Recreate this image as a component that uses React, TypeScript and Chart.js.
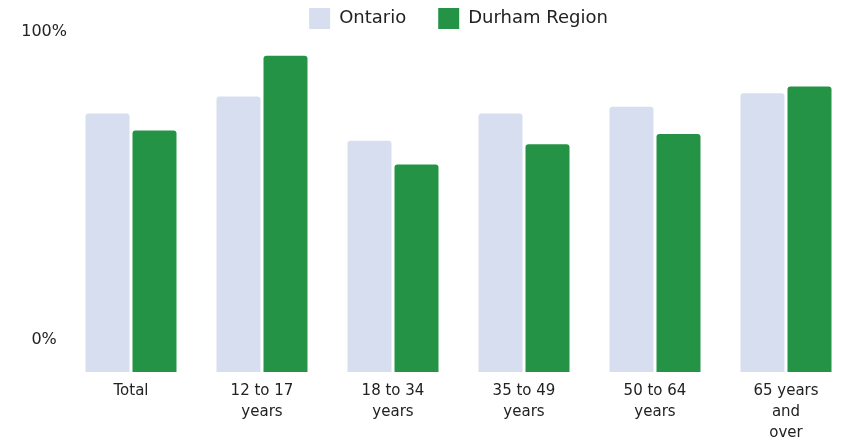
import React, { useEffect, useRef } from "react";
import { Chart, registerables } from "chart.js";

Chart.register(...registerables);

const categories: (string | string[])[] = [
  "Total",
  ["12 to 17", "years"],
  ["18 to 34", "years"],
  ["35 to 49", "years"],
  ["50 to 64", "years"],
  ["65 years", "and", "over"],
];
const ontario = [76, 81, 68, 76, 78, 82];
const durham = [71, 93, 61, 67, 70, 84];
const yTickValues = [0, 100];

const FONT = "DejaVu Sans";
const TEXT = "#222222";

export default function App() {
  const ref = useRef<HTMLCanvasElement | null>(null);
  useEffect(() => {
    if (!ref.current) return;
    const chart = new Chart(ref.current, {
      type: "bar",
      data: {
        labels: categories,
        datasets: [
          {
            label: "Ontario",
            data: ontario,
            backgroundColor: "#d7deef",
            borderRadius: 3,
            borderSkipped: "start",
            clip: false as any,
            categoryPercentage: 0.7176,
            barPercentage: 0.936,
          },
          {
            label: "Durham Region",
            data: durham,
            backgroundColor: "#249346",
            borderRadius: 3,
            borderSkipped: "start",
            clip: false as any,
            categoryPercentage: 0.7176,
            barPercentage: 0.936,
          },
        ],
      },
      options: {
        animation: false,
        responsive: true,
        maintainAspectRatio: false,
        layout: { padding: { left: 0, right: 58, top: -24, bottom: 0 } },
        plugins: {
          tooltip: { enabled: false },
          legend: {
            position: "top",
            fullSize: false,
            maxHeight: 56,
            labels: {
              boxWidth: 21,
              boxHeight: 21,
              padding: 32,
              color: TEXT,
              font: { family: FONT, size: 18 },
            },
          },
        },
        scales: {
          x: {
            offset: false,
            grid: { display: false, drawTicks: false },
            border: { display: false },
            afterFit: (s: any) => {
              s.height = 66;
            },
            ticks: {
              color: TEXT,
              font: { family: FONT, size: 15, lineHeight: 1.38 },
              padding: 9,
              maxRotation: 0,
              autoSkip: false,
            },
          },
          y: {
            display: false,
            min: 0,
            max: 100,
          },
          yl: {
            type: "linear",
            position: "left",
            min: -10.39,
            max: 100,
            grid: { display: false, drawTicks: false },
            border: { display: false },
            afterBuildTicks: (s: any) => {
              s.ticks = yTickValues.map((v) => ({ value: v }));
            },
            afterFit: (s: any) => {
              s.width = 131;
              s.paddingTop = 0;
              s.paddingBottom = 0;
            },
            ticks: {
              color: TEXT,
              crossAlign: "center",
              padding: 64,
              font: { family: FONT, size: 16 },
              callback: (v: any) => v + "%",
            },
          },
        },
      },
    });
    return () => chart.destroy();
  }, []);
  return (
    <div style={{ position: "absolute", left: 0, top: 0, width: 844, height: 438 }}>
      <canvas ref={ref} />
    </div>
  );
}
